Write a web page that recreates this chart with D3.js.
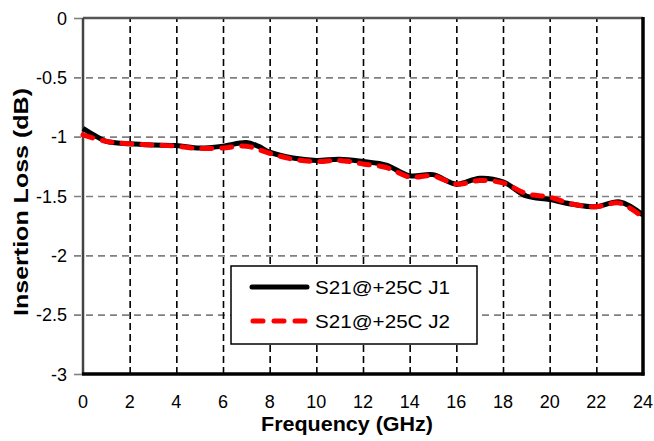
<!DOCTYPE html>
<html>
<head>
<meta charset="utf-8">
<script src="https://cdn.jsdelivr.net/npm/d3@7"></script>
<style>
  body { margin: 0; background: #fff; }
  text { font-family: "Liberation Sans", Arial, sans-serif; }
</style>
</head>
<body>
<div id="chart"></div>
<script>
// frequency points (GHz)
const freqJ1 = [0, 0.5, 1, 2, 3, 4, 5, 6, 7, 7.5, 8, 9, 10, 11, 12, 13, 14, 15, 16, 17, 18, 19, 20, 21, 22, 23, 24];
const lossJ1 = [-0.93, -0.99, -1.04, -1.06, -1.07, -1.075, -1.095, -1.08, -1.05, -1.08, -1.13, -1.18, -1.20, -1.19, -1.21, -1.24, -1.33, -1.32, -1.40, -1.35, -1.38, -1.50, -1.53, -1.57, -1.59, -1.55, -1.66];
const freqJ2 = [0, 1, 2, 3, 4, 5, 6, 7, 8, 9, 10, 11, 12, 13, 14, 15, 16, 17, 18, 19, 20, 21, 22, 23, 24];
const lossJ2 = [-0.985, -1.04, -1.06, -1.07, -1.08, -1.10, -1.095, -1.08, -1.14, -1.19, -1.21, -1.20, -1.23, -1.26, -1.34, -1.33, -1.40, -1.37, -1.39, -1.48, -1.51, -1.57, -1.59, -1.56, -1.68];
const xTicks = [0, 2, 4, 6, 8, 10, 12, 14, 16, 18, 20, 22, 24];
const yTicks = [0, -0.5, -1, -1.5, -2, -2.5, -3];
const seriesNames = ['S21@+25C J1', 'S21@+25C J2'];

const width = 654, height = 441;
const margin = { left: 83, top: 18, right: 11, bottom: 67 };

const svg = d3.select('#chart')
    .append('svg')
    .attr('width', width)
    .attr('height', height);

const xScale = d3.scaleLinear()
    .domain([0, 24])
    .range([margin.left, width - margin.right]);

const yScale = d3.scaleLinear()
    .domain([-3, 0])
    .range([height - margin.bottom, margin.top]);

/* horizontal gridlines (gray dashed, sticking out as ticks) */
svg.append('g')
    .attr('transform', `translate(${margin.left},0)`)
    .call(d3.axisLeft(yScale)
        .tickValues(yTicks)
        .tickSize(0)
        .tickFormat(''))
    .call(g => g.select('.domain').remove())
    .selectAll('.tick')
    .append('line')
    .attr('x1', -9)
    .attr('x2', d => (d === 0 || d === -3) ? 0 : xScale(24) - margin.left)
    .attr('stroke', '#808080')
    .attr('stroke-width', 1.6)
    .attr('stroke-dasharray', d => (d === 0 || d === -3) ? null : '7,5');

/* vertical gridlines (black dashed) */
svg.append('g')
    .attr('transform', `translate(0,${yScale(-3)})`)
    .call(d3.axisBottom(xScale)
        .tickValues(xTicks.filter(d => d > 0 && d < 24))
        .tickSize(-(yScale(-3) - yScale(0)))
        .tickFormat(''))
    .call(g => g.select('.domain').remove())
    .selectAll('line')
    .attr('stroke', '#000')
    .attr('stroke-width', 1.6)
    .attr('stroke-dasharray', '7,4');

/* plot frame */
svg.append('line')
    .attr('x1', xScale(0)).attr('x2', xScale(24))
    .attr('y1', yScale(0)).attr('y2', yScale(0))
    .attr('stroke', '#555').attr('stroke-width', 2.5);
svg.append('line')
    .attr('x1', xScale(0)).attr('x2', xScale(0))
    .attr('y1', yScale(0)).attr('y2', yScale(-3))
    .attr('stroke', '#444').attr('stroke-width', 2.5);
svg.append('line')
    .attr('x1', xScale(24)).attr('x2', xScale(24))
    .attr('y1', yScale(0) - 1).attr('y2', yScale(-3) + 1.5)
    .attr('stroke', '#000').attr('stroke-width', 3.5);
svg.append('line')
    .attr('x1', xScale(0) - 1).attr('x2', xScale(24) + 1.5)
    .attr('y1', yScale(-3)).attr('y2', yScale(-3))
    .attr('stroke', '#000').attr('stroke-width', 3.5);

/* tick labels */
svg.append('g')
    .selectAll('text')
    .data(yTicks)
    .join('text')
    .attr('x', 67)
    .attr('y', d => yScale(d) + 6.5)
    .attr('text-anchor', 'end')
    .attr('font-size', 18)
    .attr('fill', '#000')
    .text(d => d3.format('')(d).replace('−', '-'));

svg.append('g')
    .selectAll('text')
    .data(xTicks)
    .join('text')
    .attr('x', d => xScale(d))
    .attr('y', 408)
    .attr('text-anchor', 'middle')
    .attr('font-size', 18)
    .attr('fill', '#000')
    .text(d => d);

/* axis titles */
svg.append('text')
    .text('Frequency (GHz)')
    .attr('x', 347)
    .attr('y', 431)
    .attr('text-anchor', 'middle')
    .attr('font-size', 20)
    .attr('font-weight', 'bold')
    .attr('textLength', 172)
    .attr('lengthAdjust', 'spacingAndGlyphs');

svg.append('text')
    .text('Insertion Loss (dB)')
    .attr('transform', 'translate(28,202) rotate(-90)')
    .attr('text-anchor', 'middle')
    .attr('font-size', 20)
    .attr('font-weight', 'bold')
    .attr('textLength', 228)
    .attr('lengthAdjust', 'spacingAndGlyphs');

/* series */
const line = d3.line()
    .x(d => xScale(d[0]))
    .y(d => yScale(d[1]))
    .curve(d3.curveCatmullRom.alpha(0.5));

const dataJ1 = freqJ1.map((f, i) => [f, lossJ1[i]]);
const dataJ2 = freqJ2.map((f, i) => [f, lossJ2[i]]);

svg.append('path')
    .datum(dataJ1)
    .attr('fill', 'none')
    .attr('stroke', '#000')
    .attr('stroke-width', 5)
    .attr('d', line);

svg.append('path')
    .datum(dataJ2)
    .attr('fill', 'none')
    .attr('stroke', '#ff0000')
    .attr('stroke-width', 5)
    .attr('stroke-linecap', 'round')
    .attr('stroke-dasharray', '10,10')
    .attr('d', line);

/* legend */
const legend = svg.append('g').attr('transform', 'translate(231,266)');
legend.append('rect')
    .attr('width', 246)
    .attr('height', 78)
    .attr('fill', '#fff')
    .attr('stroke', '#000')
    .attr('stroke-width', 1.5);

legend.append('line')
    .attr('x1', 21).attr('x2', 76)
    .attr('y1', 21).attr('y2', 21)
    .attr('stroke', '#000')
    .attr('stroke-width', 5)
    .attr('stroke-linecap', 'round');

legend.append('line')
    .attr('x1', 22).attr('x2', 76)
    .attr('y1', 55).attr('y2', 55)
    .attr('stroke', '#ff0000')
    .attr('stroke-width', 5)
    .attr('stroke-linecap', 'round')
    .attr('stroke-dasharray', '10,11');

legend.selectAll('.legtext')
    .data(seriesNames)
    .join('text')
    .attr('class', 'legtext')
    .attr('x', 84)
    .attr('y', (d, i) => 28 + i * 34)
    .attr('font-size', 19)
    .attr('textLength', 135)
    .attr('lengthAdjust', 'spacingAndGlyphs')
    .text(d => d);
</script>
</body>
</html>
